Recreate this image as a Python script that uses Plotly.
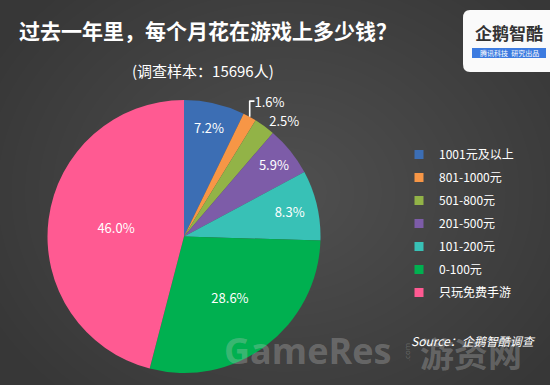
import plotly.graph_objects as go

categories = ["1001元及以上", "801-1000元", "501-800元", "201-500元", "101-200元", "0-100元", "只玩免费手游"]
values = [7.2, 1.6, 2.5, 5.9, 8.3, 28.6, 46.0]
colors = ["#3C6EB4", "#F79646", "#92B347", "#7D5CA8", "#38C1B6", "#00B050", "#FF5A92"]
label_pos = ["inside", "outside", "outside", "inside", "inside", "inside", "inside"]

title_text = "过去一年里，每个月花在游戏上多少钱？"
subtitle_text = "(调查样本：15696人)"
source_text = "Source：企鹅智酷调查"

W, H = 550, 385
FONT = "Noto Sans CJK SC, Open Sans, sans-serif"

fig = go.Figure()
fig.add_trace(go.Pie(
    labels=categories,
    values=values,
    sort=False,
    direction="clockwise",
    rotation=0,
    marker=dict(colors=colors, line=dict(width=0)),
    texttemplate="%{value:.1f}%",
    textposition=label_pos,
    insidetextorientation="horizontal",
    textfont=dict(color="white", size=13, family=FONT),
    hoverinfo="label+value",
    showlegend=False,
    domain=dict(x=[47 / W, 321 / W], y=[12 / H, 285 / H]),
))

# legend entries (one group each so the spacing matches the original)
for name, col in zip(categories, colors):
    fig.add_trace(go.Scatter(
        x=[None], y=[None], mode="markers", name=name,
        marker=dict(symbol="square", size=9, color=col),
        legendgroup=name, showlegend=True, hoverinfo="skip",
    ))

shapes = []
# subtle radial background glow
N = 24
for i in range(N):
    k = i / N
    shapes.append(dict(type="circle", xref="paper", yref="paper", layer="below",
                       x0=0.52 - 0.6 * (1 - k), x1=0.52 + 0.6 * (1 - k),
                       y0=0.5 - 0.7 * (1 - k), y1=0.5 + 0.7 * (1 - k),
                       fillcolor="rgba(255,255,255,0.007)", line=dict(width=0)))
# logo card
shapes.append(dict(type="path", xref="paper", yref="paper", layer="above",
                   path=f"M {470/W} {1-10/H} L {1.01} {1-10/H} L 1.01 {1-72/H} L {470/W} {1-72/H} "
                        f"Q {463/W} {1-72/H} {463/W} {1-64/H} L {463/W} {1-18/H} Q {463/W} {1-10/H} {470/W} {1-10/H} Z",
                   fillcolor="#FAFAFA", line=dict(width=0)))
shapes.append(dict(type="rect", xref="paper", yref="paper", layer="above",
                   x0=472 / W, x1=546 / W, y0=1 - 58 / H, y1=1 - 48 / H,
                   fillcolor="#3C7BE0", line=dict(width=0)))

WM = "rgba(200,200,200,0.30)"
annotations = [
    dict(text=f"<b>{title_text}</b>", x=17 / W, y=1 - 30 / H, xref="paper", yref="paper",
         xanchor="left", yanchor="middle", showarrow=False,
         font=dict(size=21, color="white", family=FONT)),
    dict(text=subtitle_text, x=203 / W, y=1 - 70 / H, xref="paper", yref="paper",
         xanchor="center", yanchor="middle", showarrow=False,
         font=dict(size=15, color="white", family=FONT)),
    dict(text="<b>企鹅智酷</b>", x=509 / W, y=1 - 32 / H, xref="paper", yref="paper",
         xanchor="center", yanchor="middle", showarrow=False,
         font=dict(size=17, color="#333333", family=FONT)),
    dict(text="腾讯科技  研究出品", x=509 / W, y=1 - 53 / H, xref="paper", yref="paper",
         xanchor="center", yanchor="middle", showarrow=False,
         font=dict(size=7, color="white", family=FONT)),
    dict(text="<b>GameRes</b>", x=222 / W, y=1 - 350 / H, xref="paper", yref="paper",
         xanchor="left", yanchor="middle", showarrow=False,
         font=dict(size=36, color=WM, family="Open Sans, sans-serif")),
    dict(text=".com", x=406 / W, y=1 - 352 / H, xref="paper", yref="paper",
         xanchor="center", yanchor="middle", showarrow=False, textangle=-90,
         font=dict(size=8, color=WM, family="Open Sans, sans-serif")),
    dict(text="<b>游资网</b>", x=418 / W, y=1 - 352 / H, xref="paper", yref="paper",
         xanchor="left", yanchor="middle", showarrow=False,
         font=dict(size=34, color=WM, family=FONT)),
    dict(text=f"<i>{source_text}</i>", x=538 / W, y=1 - 340 / H, xref="paper", yref="paper",
         xanchor="right", yanchor="middle", showarrow=False,
         font=dict(size=12, color="white", family=FONT)),
]

fig.update_layout(
    width=W, height=H,
    margin=dict(l=0, r=0, t=0, b=0),
    paper_bgcolor="#373737",
    plot_bgcolor="rgba(0,0,0,0)",
    xaxis=dict(visible=False),
    yaxis=dict(visible=False),
    showlegend=True,
    legend=dict(x=399 / W, y=1 - 140 / H, xanchor="left", yanchor="top",
                traceorder="grouped", tracegroupgap=4, itemwidth=30,
                bgcolor="rgba(0,0,0,0)", font=dict(size=12, color="white", family=FONT),
                itemclick=False, itemdoubleclick=False),
    uniformtext=dict(minsize=13, mode="show"),
    shapes=shapes,
    annotations=annotations,
)

fig.write_html("out.html", post_script="document.body.style.margin='0';",
               config={"displayModeBar": False})
